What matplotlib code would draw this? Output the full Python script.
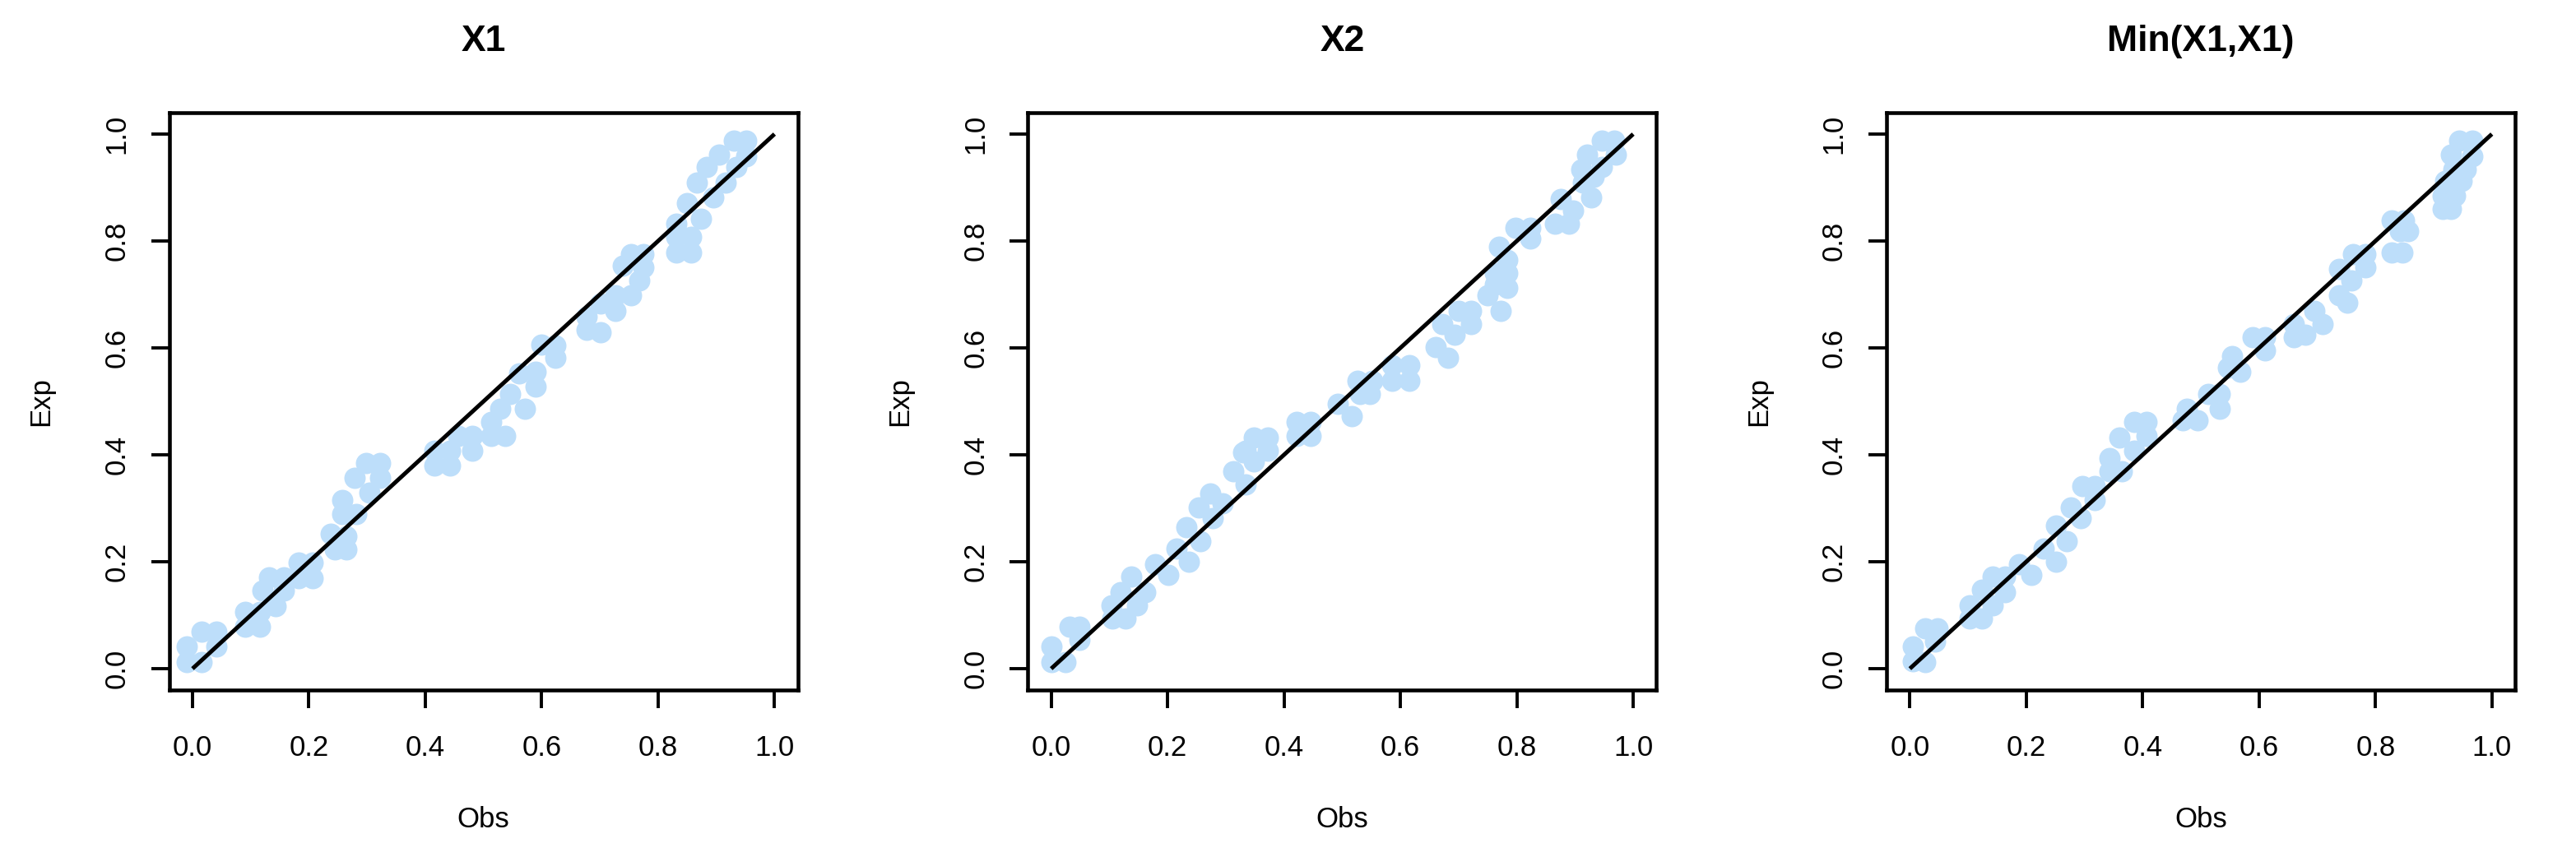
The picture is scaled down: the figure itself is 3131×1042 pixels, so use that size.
import matplotlib
matplotlib.use("Agg")
import matplotlib.pyplot as plt
import numpy as np

plt.rcParams['font.family'] = ['Liberation Sans', 'DejaVu Sans']

titles = ["X1", "X2", "Min(X1,X1)"]
ticks = [0.0, 0.2, 0.4, 0.6, 0.8, 1.0]
tick_labels = ["0.0", "0.2", "0.4", "0.6", "0.8", "1.0"]

# P-P points (Obs, Exp)
x1_obs = [-0.010, 0.016, -0.010, 0.015, 0.041, 0.041,
          0.090, 0.090, 0.116, 0.116,
          0.120, 0.132, 0.157, 0.157, 0.143,
          0.182, 0.207, 0.182, 0.207,
          0.238, 0.264, 0.264, 0.245,
          0.257, 0.282, 0.257, 0.278, 0.298, 0.323, 0.323, 0.304,
          0.416, 0.442, 0.416, 0.457, 0.480, 0.480, 0.442,
          0.513, 0.537, 0.513, 0.529, 0.571, 0.546, 0.589, 0.561, 0.589, 0.599, 0.624, 0.624,
          0.677, 0.701, 0.677, 0.701, 0.726, 0.726, 0.754, 0.740, 0.754, 0.775, 0.775, 0.768,
          0.831, 0.856, 0.831, 0.856, 0.831, 0.849, 0.874,
          0.867, 0.884, 0.905, 0.930, 0.951, 0.951, 0.934, 0.916, 0.895]
x1_exp = [0.012, 0.012, 0.041, 0.069, 0.069, 0.041,
          0.106, 0.078, 0.078, 0.106,
          0.146, 0.171, 0.171, 0.146, 0.117,
          0.198, 0.198, 0.170, 0.170,
          0.253, 0.248, 0.223, 0.223,
          0.289, 0.289, 0.316, 0.357, 0.384, 0.384, 0.357, 0.330,
          0.380, 0.380, 0.407, 0.435, 0.435, 0.407, 0.407,
          0.436, 0.436, 0.461, 0.486, 0.486, 0.514, 0.528, 0.553, 0.556, 0.606, 0.605, 0.581,
          0.634, 0.630, 0.659, 0.683, 0.669, 0.698, 0.698, 0.754, 0.775, 0.775, 0.751, 0.726,
          0.779, 0.779, 0.807, 0.807, 0.832, 0.871, 0.842,
          0.909, 0.938, 0.962, 0.987, 0.987, 0.959, 0.938, 0.909, 0.881]

x2_obs = [0.000, 0.024, 0.000, 0.031, 0.049, 0.049,
          0.105, 0.128, 0.103, 0.119, 0.147, 0.138, 0.161,
          0.179, 0.201, 0.216, 0.237, 0.232, 0.256, 0.253, 0.277, 0.274, 0.295,
          0.313, 0.334, 0.330, 0.348, 0.334, 0.348, 0.372, 0.372,
          0.422, 0.446, 0.422, 0.446,
          0.492, 0.517, 0.527, 0.552, 0.548, 0.531,
          0.586, 0.615, 0.586, 0.615,
          0.661, 0.682, 0.672, 0.693, 0.700, 0.721, 0.721,
          0.749, 0.773, 0.763, 0.784, 0.763, 0.784, 0.770, 0.784, 0.798, 0.823, 0.823,
          0.865, 0.890, 0.876, 0.897, 0.914, 0.928, 0.911, 0.932, 0.921, 0.946, 0.946, 0.967, 0.970]
x2_exp = [0.013, 0.012, 0.041, 0.078, 0.078, 0.054,
          0.094, 0.094, 0.118, 0.143, 0.118, 0.172, 0.143,
          0.196, 0.175, 0.224, 0.200, 0.265, 0.239, 0.302, 0.281, 0.327, 0.309,
          0.369, 0.345, 0.405, 0.387, 0.408, 0.433, 0.433, 0.408,
          0.461, 0.461, 0.436, 0.436,
          0.496, 0.472, 0.539, 0.539, 0.514, 0.514,
          0.567, 0.567, 0.539, 0.539,
          0.602, 0.581, 0.645, 0.624, 0.669, 0.669, 0.645,
          0.698, 0.669, 0.719, 0.712, 0.740, 0.740, 0.789, 0.765, 0.825, 0.825, 0.804,
          0.832, 0.832, 0.878, 0.857, 0.910, 0.881, 0.934, 0.920, 0.962, 0.938, 0.987, 0.987, 0.962]

min_obs = [0.005, 0.026, 0.005, 0.026, 0.047, 0.044,
           0.103, 0.124, 0.103, 0.124, 0.142, 0.163, 0.163, 0.142,
           0.188, 0.209, 0.230, 0.251, 0.251, 0.269, 0.276, 0.293, 0.297, 0.318, 0.318,
           0.343, 0.364, 0.343, 0.360, 0.385, 0.406, 0.406, 0.385,
           0.476, 0.494, 0.469, 0.512, 0.533, 0.533, 0.547, 0.568, 0.554, 0.589, 0.610, 0.610,
           0.659, 0.680, 0.659, 0.695, 0.709, 0.737, 0.751, 0.737, 0.761, 0.782, 0.782, 0.758,
           0.828, 0.849, 0.856, 0.828, 0.846, 0.842,
           0.916, 0.930, 0.916, 0.920, 0.934, 0.930, 0.944, 0.966, 0.966, 0.955, 0.948, 0.937]
min_exp = [0.014, 0.012, 0.041, 0.076, 0.076, 0.051,
           0.094, 0.094, 0.118, 0.147, 0.172, 0.172, 0.143, 0.118,
           0.196, 0.175, 0.224, 0.200, 0.267, 0.239, 0.302, 0.281, 0.341, 0.341, 0.316,
           0.369, 0.369, 0.394, 0.433, 0.461, 0.461, 0.436, 0.408,
           0.486, 0.465, 0.465, 0.514, 0.486, 0.514, 0.563, 0.556, 0.585, 0.620, 0.620, 0.595,
           0.645, 0.624, 0.620, 0.669, 0.645, 0.698, 0.684, 0.747, 0.775, 0.775, 0.751, 0.726,
           0.839, 0.839, 0.818, 0.779, 0.779, 0.818,
           0.860, 0.860, 0.885, 0.913, 0.934, 0.962, 0.987, 0.987, 0.959, 0.934, 0.913, 0.885]

panels = [(x1_obs, x1_exp), (x2_obs, x2_exp), (min_obs, min_exp)]

W, H = 3131, 1042
fig = plt.figure(figsize=(W / 100, H / 100), dpi=100)

for i, (obs, exp) in enumerate(panels):
    left = (205.7 + i * 1043.67) / W
    ax = fig.add_axes([left, (H - 839) / H, 764 / W, 702 / H])
    ax.scatter(obs, exp, s=350, color="#BDDEFA", linewidths=0, zorder=2)
    ax.plot([0, 1], [0, 1], color="black", lw=3.6, zorder=3, solid_capstyle="butt")
    ax.set_xlim(-0.04, 1.04)
    ax.set_ylim(-0.04, 1.04)
    ax.set_xticks(ticks)
    ax.set_xticklabels(tick_labels)
    ax.set_yticks(ticks)
    ax.set_yticklabels(tick_labels, rotation=90, va="center")
    ax.tick_params(axis="both", length=16, width=2.8, labelsize=25, direction="out")
    ax.tick_params(axis="x", pad=23)
    ax.tick_params(axis="y", pad=18)
    for sp in ax.spines.values():
        sp.set_linewidth(3.3)
    ax.set_title(titles[i], fontsize=32, fontweight="bold", pad=54)
    ax.set_xlabel("Obs", fontsize=25)
    ax.set_ylabel("Exp", fontsize=25)
    ax.xaxis.set_label_coords(0.5, -0.225)
    ax.yaxis.set_label_coords(-0.204, 0.5)
    ax.xaxis.label.set_va("center")
    ax.yaxis.label.set_va("center")

fig.savefig("out.png", dpi=100)
